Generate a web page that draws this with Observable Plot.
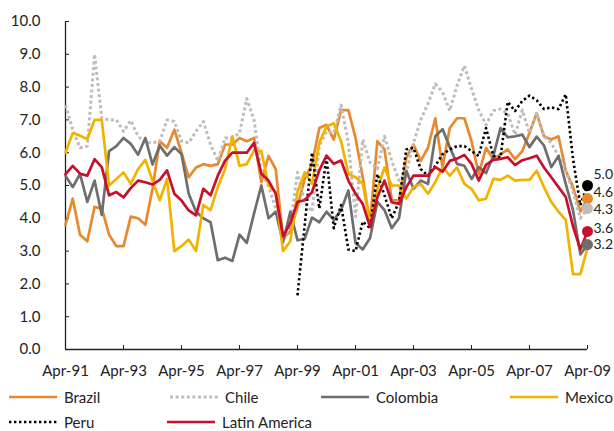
<!DOCTYPE html>
<html>
<head>
<meta charset="utf-8">
<script src="https://cdn.jsdelivr.net/npm/d3@7"></script>
<script src="https://cdn.jsdelivr.net/npm/@observablehq/plot@0.6"></script>
<style>
  body { margin: 0; background: #fff; font-family: Lato, sans-serif; }
  #wrap { position: relative; width: 614px; height: 431px; overflow: hidden; }
  #wrap svg.chart { position: absolute; left: 0; top: 0; }
  .item { position: absolute; height: 20px; display: flex; align-items: center; font-size: 15px; color: #222; white-space: nowrap; }
  .item svg { display: block; margin-right: 7px; }
</style>
</head>
<body>
<div id="wrap"></div>
<script>
// ---- Data (quarterly, Apr-91 .. Apr-09) ----
const firstQuarter = "Apr-91";
const lastQuarter = "Apr-09";
const xTickLabels = ["Apr-91","Apr-93","Apr-95","Apr-97","Apr-99","Apr-01","Apr-03","Apr-05","Apr-07","Apr-09"];
const yTicks = [0,1,2,3,4,5,6,7,8,9,10];
const seriesNames = ["Brazil","Chile","Colombia","Mexico","Peru","Latin America"];

const brazil = [3.8,4.6,3.5,3.3,4.35,4.3,3.5,3.15,3.15,4.05,4.0,3.8,4.9,6.35,6.15,6.7,6.0,5.25,5.55,5.65,
  5.6,5.65,6.25,6.25,6.45,6.35,6.45,5.1,5.9,5.5,3.4,3.6,4.35,5.2,5.65,6.75,6.85,6.4,7.3,7.3,
  6.45,5.25,3.85,6.35,6.1,4.55,4.55,5.85,6.25,5.75,6.15,7.05,5.55,6.75,7.05,7.05,6.35,5.35,6.15,5.8,
  5.95,6.1,5.8,6.05,6.6,7.2,6.5,6.4,6.5,5.45,4.95,4.2,4.6];
const chile = [7.45,6.7,6.15,6.2,9.0,7.05,7.0,7.0,6.65,6.98,6.5,6.3,6.3,6.35,7.0,6.95,6.35,6.3,6.65,6.95,
  6.25,5.75,6.45,6.45,6.6,7.65,7.0,5.4,5.0,4.3,3.3,3.8,5.4,4.5,4.2,6.2,6.65,6.6,7.45,6.3,
  4.05,6.4,5.7,5.5,6.5,5.75,5.15,5.4,6.3,7.0,7.5,8.1,7.85,7.28,8.05,8.65,7.95,7.3,6.85,7.28,
  7.33,7.2,6.55,7.3,6.6,7.2,6.5,6.3,5.9,5.45,4.8,4.0,4.3];
const colombia = [5.3,4.95,5.35,4.5,5.15,4.1,6.05,6.2,6.45,6.27,5.94,6.45,5.64,6.22,5.91,6.17,5.96,4.75,4.2,4.0,
  3.88,2.72,2.8,2.7,3.5,3.25,4.15,5.0,4.0,4.2,3.27,4.2,3.33,3.38,4.02,3.88,4.2,3.95,4.25,4.85,
  3.25,3.05,3.4,4.5,4.25,3.7,4.0,5.45,4.9,5.15,5.05,6.5,6.72,6.17,5.66,5.6,5.2,5.56,5.38,5.9,
  6.75,6.47,6.5,6.55,6.17,6.49,6.22,5.56,5.9,5.05,4.24,2.9,3.2];
const mexico = [6.0,6.6,6.52,6.42,7.0,7.0,5.0,5.2,5.4,5.05,5.5,5.78,5.15,4.55,5.2,3.0,3.15,3.35,3.0,4.4,
  4.25,4.95,5.5,6.5,5.6,5.65,6.07,6.05,5.0,4.8,3.0,3.3,4.8,5.4,5.05,6.3,6.8,6.9,6.35,5.35,
  5.25,5.05,3.85,4.9,5.55,5.0,5.0,4.6,4.95,5.05,4.75,5.1,5.55,5.3,5.55,5.05,4.9,4.55,4.6,5.2,
  5.17,5.3,5.15,5.17,5.17,5.45,4.95,4.5,4.2,3.95,2.3,2.3,3.1];
const peru = [null,null,null,null,null,null,null,null,null,null,null,null,null,null,null,null,null,null,null,null,
  null,null,null,null,null,null,null,null,null,null,null,null,1.65,3.8,6.0,4.3,5.85,3.7,4.4,3.05,
  3.0,3.9,3.7,5.35,4.7,4.0,4.5,6.1,6.15,5.5,5.3,5.6,5.95,6.1,6.2,6.2,6.05,5.9,6.75,5.9,
  5.85,7.55,7.27,7.58,7.74,7.6,7.33,7.38,7.33,7.78,5.8,4.4,5.0];
const latinAmerica = [5.35,5.6,5.36,5.3,5.8,5.56,4.7,4.8,4.64,4.92,5.15,5.1,5.03,5.17,5.46,4.75,4.54,4.24,4.09,4.9,
  4.7,5.3,5.76,6.0,6.0,6.0,6.3,5.36,5.15,4.75,3.45,3.85,4.5,4.55,4.8,5.46,5.91,5.66,5.76,5.15,
  4.75,4.44,3.73,4.64,5.15,4.49,4.44,4.95,5.3,5.3,5.3,5.56,5.42,5.75,5.82,5.93,5.66,5.15,5.63,5.78,
  5.81,5.86,5.62,5.77,5.83,5.91,5.55,5.25,4.95,4.65,3.75,3.05,3.6];
// series whose final value is marked with a dot and label
const endLabelled = ["Peru","Brazil","Chile","Latin America","Colombia"];

// ---- Build ----
const parseQ = d3.utcParse("%b-%y");
const dates = d3.utcMonth.every(3).range(parseQ(firstQuarter), d3.utcMonth.offset(parseQ(lastQuarter), 1));
const valuesByName = {"Brazil": brazil, "Chile": chile, "Colombia": colombia, "Mexico": mexico, "Peru": peru, "Latin America": latinAmerica};

const styles = {
  "Brazil":        {stroke: "#E8892E", width: 2.7, dash: null},
  "Chile":         {stroke: "#BDBDBD", width: 3,   dash: "3,2.6"},
  "Colombia":      {stroke: "#6E6E6E", width: 2.7, dash: null},
  "Mexico":        {stroke: "#F0B400", width: 2.7, dash: null},
  "Peru":          {stroke: "#000000", width: 2.6, dash: "2.4,2.6"},
  "Latin America": {stroke: "#C8102E", width: 2.7, dash: null}
};
const labelDy = {"Peru": -11, "Brazil": -6, "Chile": 1, "Latin America": -3, "Colombia": 0};

const rows = name => dates.map((d, i) => ({date: d, value: valuesByName[name][i], name})).filter(r => r.value != null);

const marks = [];
for (const name of seriesNames) {
  const s = styles[name];
  marks.push(Plot.line(rows(name), {
    x: "date", y: "value", stroke: s.stroke, strokeWidth: s.width,
    strokeDasharray: s.dash, strokeLinejoin: "round", strokeLinecap: s.dash ? "butt" : "round"
  }));
}
const ends = endLabelled.map(name => {
  const v = valuesByName[name];
  return {date: dates[dates.length - 1], value: v[v.length - 1], name};
});
marks.push(Plot.dot(ends, {x: "date", y: "value", r: 5.5, fill: d => styles[d.name].stroke, stroke: "none"}));
for (const e of ends) {
  marks.push(Plot.text([e], {x: "date", y: "value", text: d => d3.format(".1f")(d.value),
    textAnchor: "start", dx: 6, dy: labelDy[e.name], fill: "#222", fontSize: 14}));
}

const xTicks = xTickLabels.map(parseQ);
const chart = Plot.plot({
  width: 614, height: 382,
  marginLeft: 65, marginRight: 27, marginTop: 21, marginBottom: 33,
  style: {fontFamily: "Lato, sans-serif", fontSize: "15px", color: "#222", background: "#fff", overflow: "visible"},
  x: {type: "utc", domain: [dates[0], dates[dates.length - 1]], label: null},
  y: {domain: [0, 10], label: null},
  marks: [
    Plot.axisY({ticks: yTicks, tickSize: 0, tickPadding: 25, tickFormat: d3.format(".1f"), fill: "#222", label: null}),
    Plot.axisY({ticks: yTicks, tickSize: 4, dx: 4, tickFormat: () => "", stroke: "#222", label: null}),
    Plot.axisX({ticks: xTicks, tickSize: 0, tickPadding: 16, tickFormat: d3.utcFormat("%b-%y"), fill: "#222", label: null}),
    Plot.axisX({ticks: xTicks, tickSize: 4, dy: -4, tickFormat: () => "", stroke: "#222", label: null}),
    Plot.ruleX([dates[0]], {stroke: "#222", strokeWidth: 1.3}),
    Plot.ruleY([0], {stroke: "#222", strokeWidth: 1.3}),
    ...marks
  ]
});
chart.classList.add("chart");
const wrap = document.getElementById("wrap");
wrap.appendChild(chart);

// ---- Legend (HTML, below the SVG) ----
const legendLayout = [
  {name: "Brazil", left: 9, top: 397},
  {name: "Chile", left: 170, top: 397},
  {name: "Colombia", left: 321, top: 397},
  {name: "Mexico", left: 510, top: 397},
  {name: "Peru", left: 9, top: 422},
  {name: "Latin America", left: 167, top: 422}
];
for (const L of legendLayout) {
  const s = styles[L.name];
  const div = document.createElement("div");
  div.className = "item";
  div.style.left = L.left + "px";
  div.style.top = (L.top - 10) + "px";
  const w = 48;
  div.innerHTML = `<svg width="${w}" height="6"><line x1="0" y1="3" x2="${w}" y2="3" stroke="${s.stroke}" stroke-width="${s.width}" ${s.dash ? `stroke-dasharray="${s.dash}"` : 'stroke-linecap="round"'}/></svg><span>${L.name}</span>`;
  wrap.appendChild(div);
}
</script>
</body>
</html>
